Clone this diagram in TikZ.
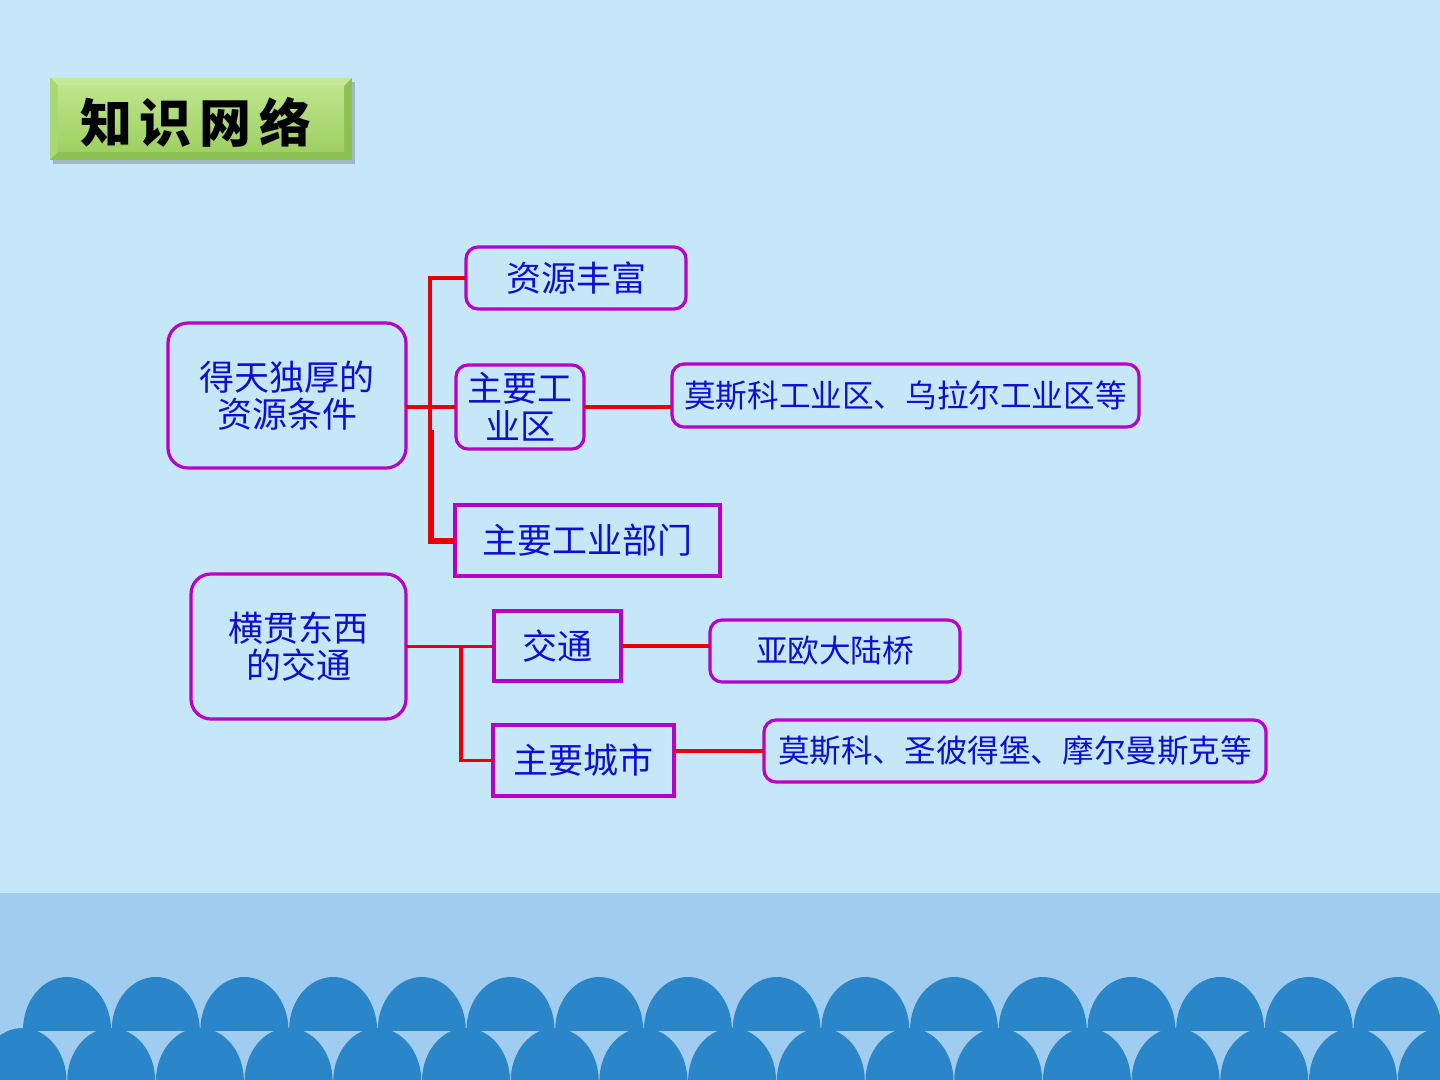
\documentclass[tikz,border=0pt]{standalone}
\usepackage{fontspec}
\newfontfamily\cjk{Noto Sans CJK SC}
\definecolor{bgblue}{RGB}{198,231,249}
\definecolor{bandblue}{RGB}{160,205,239}
\definecolor{waveblue}{RGB}{42,134,200}
\definecolor{boxline}{RGB}{185,0,200}
\definecolor{txtblue}{RGB}{15,15,210}
\definecolor{linered}{RGB}{230,0,0}
\definecolor{gA}{RGB}{140,192,82}
\definecolor{gB}{RGB}{196,232,150}
\definecolor{gC}{RGB}{170,215,115}
\definecolor{gD}{RGB}{190,228,140}
\definecolor{gE}{RGB}{158,208,98}
\begin{document}
\begin{tikzpicture}[x=0.5pt,y=-0.5pt,
  rbox/.style={draw=boxline,line width=1.6pt,rounded corners=10pt,inner sep=0pt,outer sep=0pt,
     text=txtblue,align=center,font=\cjk\fontsize{17.5}{18.5}\selectfont},
  rboxs/.style={rbox,rounded corners=6pt},
  sbox/.style={rbox,rounded corners=0pt},
  small/.style={font=\cjk\fontsize{15.8}{18}\selectfont},
  conn/.style={draw=linered,line width=1.9pt},
  wave/.style={fill=waveblue}]
\useasboundingbox (0,0) rectangle (1440,1080);
\fill[bgblue] (0,0) rectangle (1440,1080);
\fill[bandblue] (0,893) rectangle (1440,1080);
% waves
\begin{scope}
  \clip (0,0) rectangle (1440,1030);
  \foreach \k in {0,...,16} {\fill[wave] ({67+88.7*\k},1030) ellipse [x radius=44,y radius=53];}
\end{scope}
\begin{scope}
  \clip (0,0) rectangle (1440,1080);
  \foreach \k in {0,...,16} {\fill[wave] ({22.5+88.7*\k},1081) ellipse [x radius=44,y radius=53];}
\end{scope}
% title box
\fill[black,opacity=0.2] (53,82) rectangle (355,164);
\fill[gA] (50,78) rectangle (352,160);
\fill[gB] (50,78) -- (352,78) -- (344,86) -- (58,86) -- cycle;
\fill[gC] (50,78) -- (58,86) -- (58,152) -- (50,160) -- cycle;
\shade[top color=gD,bottom color=gE] (58,86) rectangle (344,152);
\node[font=\cjk\bfseries\fontsize{26}{28}\selectfont,text=black] (title) at (196,122) {知\hspace{4pt}识\hspace{4pt}网\hspace{4pt}络};
% nodes
\node[rbox,minimum width=119pt,minimum height=72.5pt] (n1) at (287,395.5) {得天独厚的\\资源条件};
\node[rboxs,minimum width=110pt,minimum height=31pt] (n2) at (576,278) {资源丰富};
\node[rboxs,minimum width=64pt,minimum height=42pt,font=\cjk\fontsize{17.5}{19}\selectfont] (n3) at (520,407) {主要工\\业区};
\node[rboxs,small,minimum width=233.5pt,minimum height=31.5pt] (n4) at (905.5,395.5) {莫斯科工业区、乌拉尔工业区等};
\node[sbox,minimum width=132.5pt,minimum height=35.5pt] (n5) at (587.5,540.5) {主要工业部门};
\node[rbox,minimum width=107.5pt,minimum height=72.5pt] (n6) at (298.5,646.5) {横贯东西\\的交通};
\node[sbox,minimum width=63.5pt,minimum height=35pt] (n7) at (557.5,646) {交通};
\node[rboxs,small,minimum width=125pt,minimum height=31pt] (n8) at (835,651) {亚欧大陆桥};
\node[sbox,minimum width=90.5pt,minimum height=35.5pt] (n9) at (583.5,760.5) {主要城市};
\node[rboxs,small,minimum width=251pt,minimum height=31pt] (n10) at (1015,751) {莫斯科、圣彼得堡、摩尔曼斯克等};
% connectors
\coordinate (j1) at (430,405);
\coordinate (j1b) at (431,430);
\coordinate (j2) at (461,646);
\draw[conn] (n3.west) -- (n3.west -| n1.east);
\draw[conn] (n2.west) -- (n2.west -| j1) -- (j1 |- j1b);
\draw[conn,line width=3pt] (j1b) -- (j1b |- n5.west) -- (n5.west);
\draw[conn] (n3.east) -- (n3.east -| n4.west);
\draw[conn] (n6.east) -- (n6.east -| n7.west);
\draw[conn] (j2) -- (j2 |- n9.west) -- (n9.west);
\draw[conn] (n7.east) -- (n7.east -| n8.west);
\draw[conn] (n10.west) -- (n10.west -| n9.east);
\end{tikzpicture}
\end{document}
